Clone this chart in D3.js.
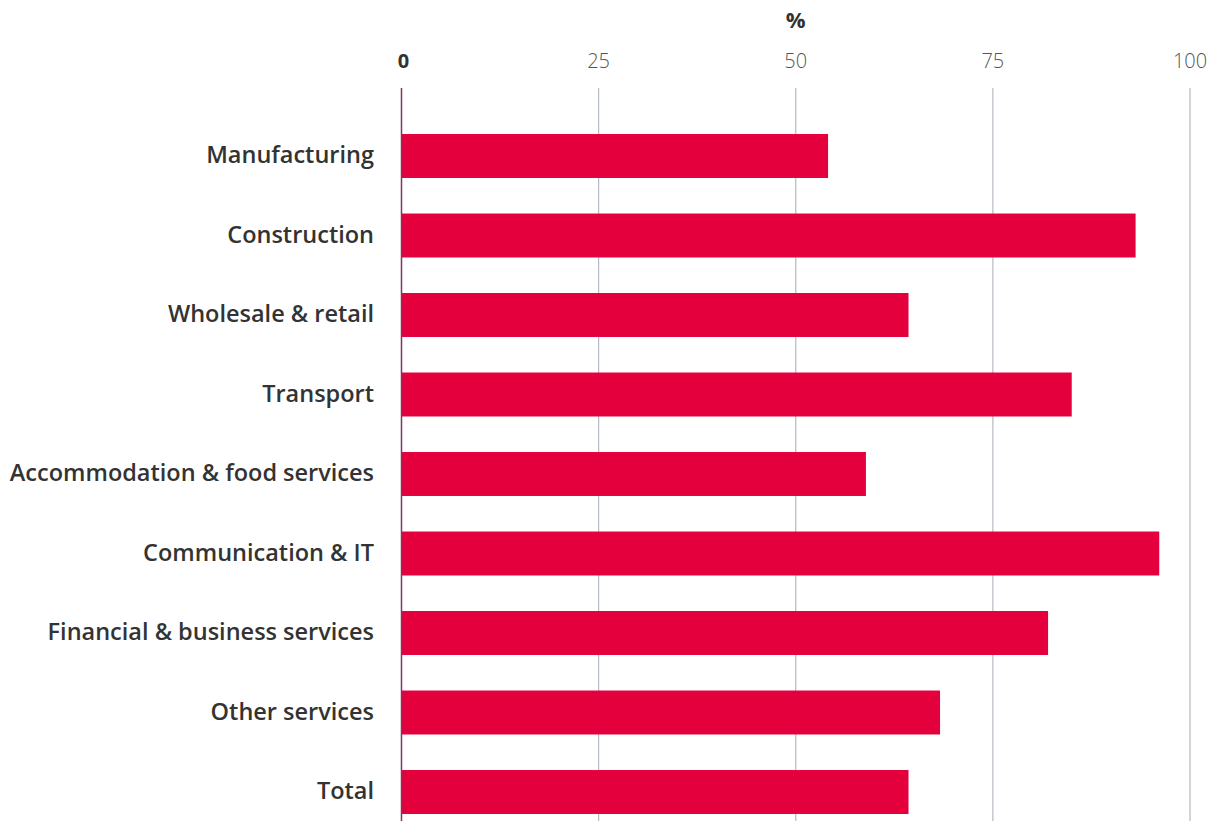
<!DOCTYPE html>
<html>
<head>
<meta charset="utf-8">
<script src="https://cdn.jsdelivr.net/npm/d3@7"></script>
<style>
  html, body { margin: 0; padding: 0; background: #fff; }
  svg { display: block; }
</style>
</head>
<body>
<svg id="chart" width="1216" height="821"></svg>
<script>
// Share of firms by sector (%)
const sectors = [
  "Manufacturing",
  "Construction",
  "Wholesale & retail",
  "Transport",
  "Accommodation & food services",
  "Communication & IT",
  "Financial & business services",
  "Other services",
  "Total"
];
const shares = [54.1, 93.1, 64.3, 85.0, 58.9, 96.1, 82.0, 68.3, 64.3];
const xTicks = [0, 25, 50, 75, 100];
const unitLabel = "%";

const svg = d3.select("#chart");
const W = 1216, H = 821;
const plotLeft = 401.5, plotRight = 1190;
const plotTop = 88;

const x = d3.scaleLinear().domain([0, 100]).range([plotLeft, plotRight]);
const y = d3.scaleBand().domain(sectors).range([116.25, 831.75])
  .paddingInner(0.447).paddingOuter(0.2235);

const font = "'Open Sans', Lato, sans-serif";

// vertical grid lines
svg.append("g")
  .selectAll("line")
  .data(xTicks.filter(d => d > 0))
  .join("line")
  .attr("x1", d => x(d)).attr("x2", d => x(d))
  .attr("y1", plotTop).attr("y2", H)
  .attr("stroke", "#b3bac3")
  .attr("stroke-width", 1.2);

// tick labels on top
svg.append("g")
  .selectAll("text")
  .data(xTicks)
  .join("text")
  .attr("x", d => x(d) + (d === 0 ? 2 : 0))
  .attr("y", 68)
  .attr("text-anchor", "middle")
  .attr("font-family", font)
  .attr("font-size", 20)
  .attr("font-weight", d => d === 0 ? 700 : 300)
  .attr("fill", d => d === 0 ? "#333" : "#555")
  .text(d => d);

svg.append("text")
  .attr("x", x(50))
  .attr("y", 28)
  .attr("text-anchor", "middle")
  .attr("font-family", font)
  .attr("font-size", 22)
  .attr("font-weight", 700)
  .attr("fill", "#333")
  .text(unitLabel);

// bars
svg.append("g")
  .selectAll("rect")
  .data(sectors)
  .join("rect")
  .attr("x", x(0))
  .attr("y", d => y(d))
  .attr("width", (d, i) => x(shares[i]) - x(0))
  .attr("height", y.bandwidth())
  .attr("fill", "#e4003c");

// zero axis line
svg.append("line")
  .attr("x1", x(0)).attr("x2", x(0))
  .attr("y1", plotTop).attr("y2", H)
  .attr("stroke", "#7b3a5c")
  .attr("stroke-width", 1.5);

// category labels
svg.append("g")
  .selectAll("text")
  .data(sectors)
  .join("text")
  .attr("x", 374)
  .attr("y", d => y(d) + y.bandwidth() / 2 - 1)
  .attr("dy", "0.35em")
  .attr("text-anchor", "end")
  .attr("font-family", font)
  .attr("font-size", 23.5)
  .attr("font-weight", 600)
  .attr("fill", "#333")
  .text(d => d);
</script>
</body>
</html>
